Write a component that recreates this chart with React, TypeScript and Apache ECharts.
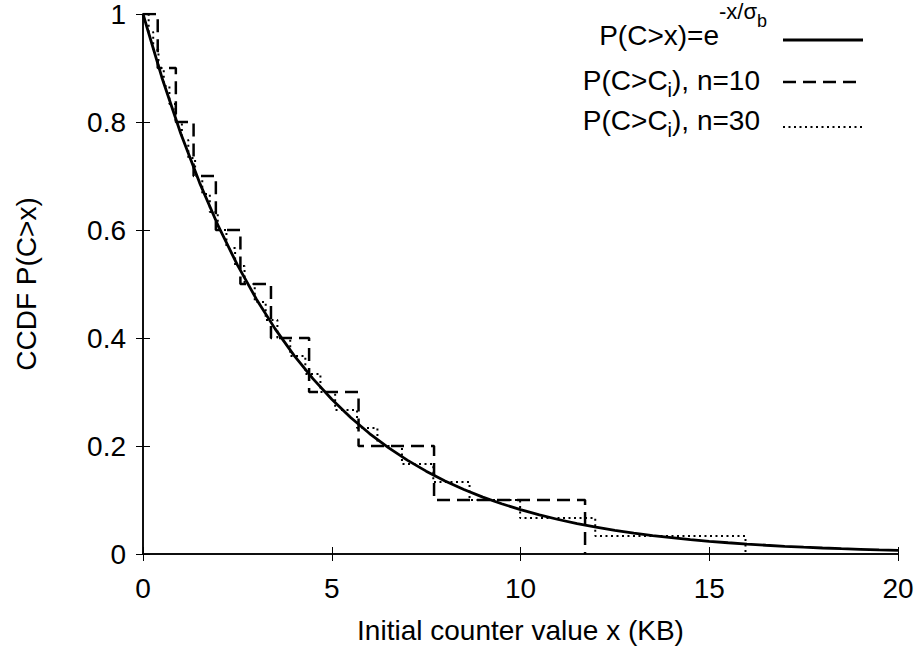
import React, { useEffect, useRef } from "react";
import * as echarts from "echarts";

const xTickValues = [0, 5, 10, 15, 20];
const yTickValues = [0, 0.2, 0.4, 0.6, 0.8, 1];

const curveX = [0, 0.5, 1, 1.5, 2, 2.5, 3, 3.5, 4, 4.5, 5, 5.5, 6, 6.5, 7, 7.5, 8, 8.5, 9, 9.5, 10,
  10.5, 11, 11.5, 12, 12.5, 13, 13.5, 14, 14.5, 15, 15.5, 16, 16.5, 17, 17.5, 18, 18.5, 19, 19.5, 20];
const curveY = [1, 0.8825, 0.7788, 0.6873, 0.6065, 0.5353, 0.4724, 0.4169, 0.3679, 0.3247, 0.2865,
  0.2528, 0.2231, 0.1969, 0.1738, 0.1534, 0.1353, 0.1194, 0.1054, 0.093, 0.0821, 0.0724, 0.0639,
  0.0564, 0.0498, 0.0439, 0.0388, 0.0342, 0.0302, 0.0266, 0.0235, 0.0208, 0.0183, 0.0162, 0.0143,
  0.0126, 0.0111, 0.0098, 0.0087, 0.0076, 0.0067];

// Empirical CCDF, n = 10
const n10X = [0, 0.39, 0.87, 1.34, 1.93, 2.58, 3.39, 4.4, 5.71, 7.71, 11.71];
const n10Y = [1, 0.9, 0.8, 0.7, 0.6, 0.5, 0.4, 0.3, 0.2, 0.1, 0];

// Empirical CCDF, n = 30
const n30X = [0, 0.15, 0.27, 0.41, 0.55, 0.7, 0.86, 1.03, 1.2, 1.38, 1.57, 1.77, 1.98, 2.21, 2.44,
  2.69, 2.96, 3.25, 3.56, 3.9, 4.3, 4.7, 5.09, 5.67, 6.21, 6.86, 7.69, 8.65, 9.99, 11.98, 15.96];
const n30Y = [1, 0.9667, 0.9333, 0.9, 0.8667, 0.8333, 0.8, 0.7667, 0.7333, 0.7, 0.6667, 0.6333,
  0.6, 0.5667, 0.5333, 0.5, 0.4667, 0.4333, 0.4, 0.3667, 0.3333, 0.3, 0.2667, 0.2333, 0.2, 0.1667,
  0.1333, 0.1, 0.0667, 0.0333, 0];

const xTitle = "Initial counter value x (KB)";
const yTitle = "CCDF P(C>x)";
const legendLabels = ["P(C>x)=e", "-x/σ", "b", "P(C>C", "i", "), n=10", "), n=30"];

const FONT = "'Liberation Sans', Arial, Helvetica, sans-serif";

function pairs(xs: number[], ys: number[]) {
  return xs.map((x, i) => [x, ys[i]]);
}

export default function App() {
  const ref = useRef<HTMLDivElement>(null);
  useEffect(() => {
    if (!ref.current) return;
    const chart = echarts.init(ref.current, undefined, { renderer: "svg" });
    const axisCommon = {
      type: "value" as const,
      splitLine: { show: false },
      axisLine: { show: true, lineStyle: { color: "#000", width: 1.5 } },
      axisTick: { show: true, inside: true, length: 7, lineStyle: { color: "#000", width: 1 } },
    };
    const mainFont = { fontFamily: FONT, fontSize: 28, color: "#000" };
    chart.setOption({
      animation: false,
      backgroundColor: "#fff",
      grid: { left: 143, right: 22, top: 10, bottom: 99, containLabel: false },
      xAxis: [
        {
          ...axisCommon,
          position: "bottom",
          min: 0,
          max: 20,
          interval: 5,
          axisLabel: { ...mainFont, margin: 20, formatter: (v: number) => (xTickValues.includes(v) ? String(v) : "") },
          name: xTitle,
          nameLocation: "middle",
          nameGap: 62,
          nameTextStyle: { ...mainFont },
        },
        {
          ...axisCommon,
          position: "top",
          min: 0,
          max: 20,
          interval: 5,
          axisLabel: { show: false },
        },
      ],
      yAxis: [
        {
          ...axisCommon,
          position: "left",
          min: 0,
          max: 1,
          interval: 0.2,
          axisLabel: { ...mainFont, margin: 17, formatter: (v: number) => (yTickValues.some((t) => Math.abs(t - v) < 1e-9) ? String(Math.round(v * 10) / 10) : "") },
          name: yTitle,
          nameLocation: "middle",
          nameGap: 103,
          nameRotate: 90,
          nameTextStyle: { ...mainFont },
        },
        {
          ...axisCommon,
          position: "right",
          min: 0,
          max: 1,
          interval: 0.2,
          axisLabel: { show: false },
        },
      ],
      series: [
        {
          name: "n=30",
          type: "line",
          step: "end",
          symbol: "none",
          data: pairs(n30X, n30Y),
          lineStyle: { color: "#000", width: 2, type: [2, 3.5] },
          z: 2,
        },
        {
          name: "n=10",
          type: "line",
          step: "end",
          symbol: "none",
          data: pairs(n10X, n10Y),
          lineStyle: { color: "#000", width: 2.5, type: [13, 7] },
          z: 3,
        },
        {
          name: "exp",
          type: "line",
          symbol: "none",
          data: pairs(curveX, curveY),
          lineStyle: { color: "#000", width: 2.8 },
          z: 4,
        },
      ],
      graphic: [
        {
          type: "text",
          x: 767,
          y: 0,
          style: {
            text: `{a|${legendLabels[0]}}{b|${legendLabels[1]}}{c|${legendLabels[2]}}`,
            align: "right",
            verticalAlign: "top",
            fill: "#000",
            rich: {
              a: { fontFamily: FONT, fontSize: 28, lineHeight: 70, fill: "#000" },
              b: { fontFamily: FONT, fontSize: 22, lineHeight: 24, verticalAlign: "top", fill: "#000" },
              c: { fontFamily: FONT, fontSize: 18, lineHeight: 20, verticalAlign: "top", padding: [12, 0, 0, 0], fill: "#000" },
            },
          },
        },
        {
          type: "text",
          x: 760,
          y: 60,
          style: {
            text: `{a|${legendLabels[3]}}{s|${legendLabels[4]}}{a|${legendLabels[5]}}`,
            align: "right",
            verticalAlign: "top",
            fill: "#000",
            rich: {
              a: { fontFamily: FONT, fontSize: 28, lineHeight: 40, fill: "#000" },
              s: { fontFamily: FONT, fontSize: 20, lineHeight: 25, verticalAlign: "bottom", fill: "#000" },
            },
          },
        },
        {
          type: "text",
          x: 760,
          y: 100,
          style: {
            text: `{a|${legendLabels[3]}}{s|${legendLabels[4]}}{a|${legendLabels[6]}}`,
            align: "right",
            verticalAlign: "top",
            fill: "#000",
            rich: {
              a: { fontFamily: FONT, fontSize: 28, lineHeight: 40, fill: "#000" },
              s: { fontFamily: FONT, fontSize: 20, lineHeight: 25, verticalAlign: "bottom", fill: "#000" },
            },
          },
        },
        {
          type: "line",
          shape: { x1: 783, y1: 40, x2: 863, y2: 40 },
          style: { stroke: "#000", lineWidth: 2.8 },
        },
        {
          type: "line",
          shape: { x1: 783, y1: 82, x2: 863, y2: 82 },
          style: { stroke: "#000", lineWidth: 2.5, lineDash: [13, 7] },
        },
        {
          type: "line",
          shape: { x1: 783, y1: 127, x2: 863, y2: 127 },
          style: { stroke: "#000", lineWidth: 2, lineDash: [2, 3.5] },
        },
      ],
    });
    return () => chart.dispose();
  }, []);
  return (
    <div
      ref={ref}
      style={{ position: "fixed", left: 0, top: 0, width: 920, height: 653, background: "#fff" }}
    />
  );
}
